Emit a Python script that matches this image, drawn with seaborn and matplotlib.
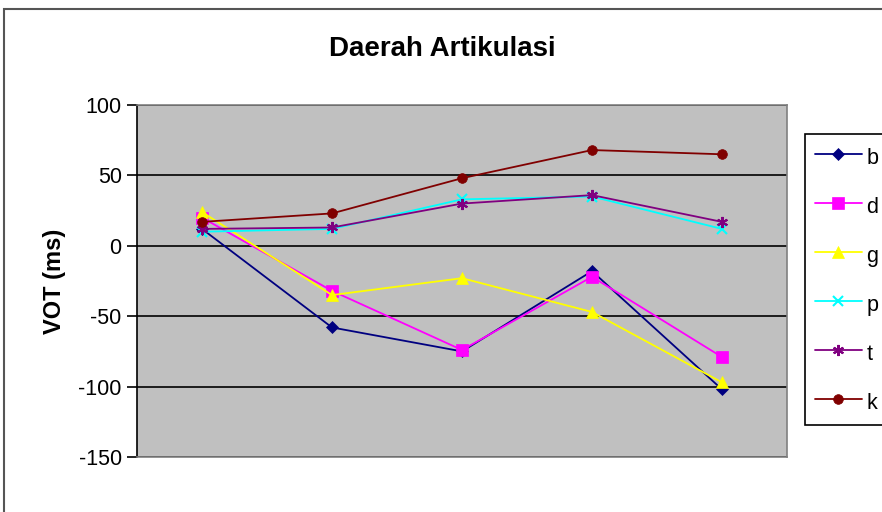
import matplotlib
matplotlib.use("Agg")
import matplotlib.pyplot as plt
import seaborn as sns
import pandas as pd
from matplotlib.patches import Rectangle

categories = ["1", "2", "3", "4", "5"]
series_names = ["b", "d", "g", "p", "t", "k"]
b_vals = [12, -58, -75, -18, -102]
d_vals = [20, -32, -74, -22, -79]
g_vals = [24, -35, -23, -47, -97]
p_vals = [10, 12, 33, 35, 12]
t_vals = [12, 13, 30, 36, 17]
k_vals = [17, 23, 48, 68, 65]
y_ticks = [-150, -100, -50, 0, 50, 100]

values = [b_vals, d_vals, g_vals, p_vals, t_vals, k_vals]
colors = ["#000080", "#FF00FF", "#FFFF00", "#00FFFF", "#800080", "#800000"]
markers = ["D", "s", "^", "x", (6, 2, 0), "o"]
msizes = [6, 8, 8, 7, 8, 7]

sns.set_theme(style="white")
plt.rcParams["font.family"] = ["Liberation Sans", "DejaVu Sans"]
plt.rcParams["axes.unicode_minus"] = False
plt.rcParams["text.color"] = "black"
plt.rcParams["axes.labelcolor"] = "black"
plt.rcParams["ytick.color"] = "black"

fig = plt.figure(figsize=(8.82, 5.12), dpi=100)
ax = fig.add_axes([137 / 882, 1 - 457 / 512, 650 / 882, 352 / 512])
ax.set_facecolor("#C0C0C0")

for name, vals, c, m, ms in zip(series_names, values, colors, markers, msizes):
    df = pd.DataFrame({"cat": categories, "val": vals})
    sns.lineplot(data=df, x="cat", y="val", ax=ax, color=c, marker=m,
                 markersize=ms, markeredgecolor=c, markerfacecolor=c,
                 markeredgewidth=1.5 if m in ("x",) or isinstance(m, tuple) else 0.5,
                 linewidth=1.3, label=name, sort=False)

ax.set_xlim(-0.5, 4.5)
ax.set_ylim(-150, 100)
ax.set_yticks(y_ticks)
ax.set_xticks([])
ax.set_xlabel("")
ax.set_ylabel("VOT (ms)", fontsize=17, fontweight="bold", labelpad=9)
ax.yaxis.grid(True, color="black", linewidth=1.2)
ax.set_axisbelow(True)
ax.tick_params(axis="y", which="both", left=True, direction="out", length=7,
               width=1.2, color="black", labelsize=15.5, pad=4)
for s in ["top", "right", "bottom"]:
    ax.spines[s].set_color("#808080")
    ax.spines[s].set_linewidth(1.2)
ax.spines["left"].set_color("black")
ax.spines["left"].set_linewidth(1.2)

fig.text(442 / 882, 1 - 49 / 512, "Daerah Artikulasi", fontsize=20,
         fontweight="bold", ha="center", va="center", color="black")

leg = ax.legend(loc="upper left", bbox_to_anchor=(805 / 882, 1 - 134 / 512),
                bbox_transform=fig.transFigure, fontsize=15.5, frameon=True,
                fancybox=False, edgecolor="black", framealpha=1,
                handlelength=2.2, handleheight=1.5, handletextpad=0.2,
                labelspacing=1.06, borderpad=0.45, borderaxespad=0)
leg.get_frame().set_linewidth(1.2)

fig.patches.append(Rectangle((4 / 882, -0.1), 1.2, 1 - 9 / 512 + 0.1,
                             transform=fig.transFigure, fill=False,
                             edgecolor="#555555", linewidth=1.5, zorder=0))

fig.savefig("out.png", dpi=100)
